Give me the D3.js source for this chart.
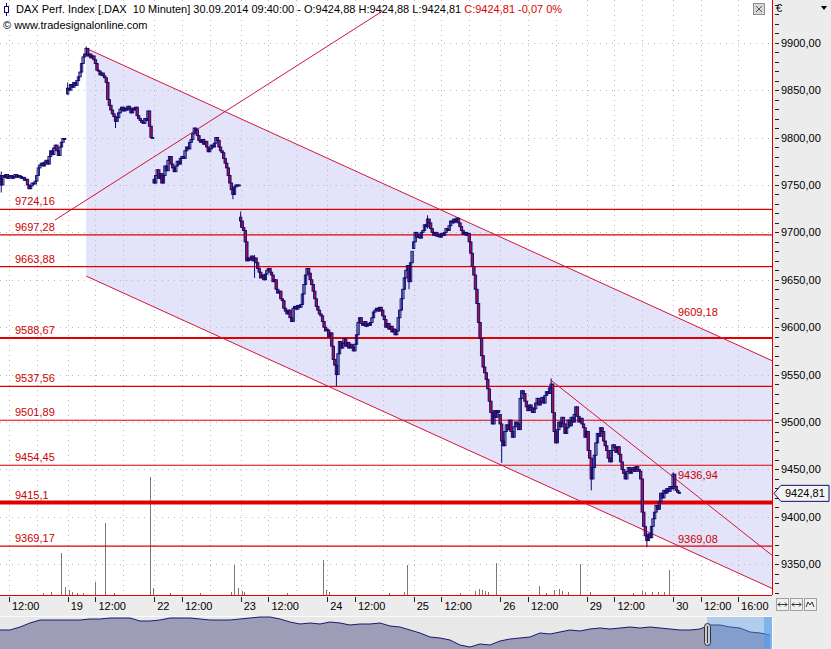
<!DOCTYPE html>
<html><head><meta charset="utf-8">
<script src="https://cdn.jsdelivr.net/npm/d3@7"></script>
<style>
body{margin:0;background:#fff;overflow:hidden}
svg{display:block}
text{font-family:"Liberation Sans",Arial,sans-serif;font-size:11px;white-space:pre}
</style>
</head><body><svg id="c" width="831" height="649"></svg>
<script>
// ---------------- DATA ----------------
const dayLabels = ["18","19","22","23","24","25","26","29","30"];
const barsPerDay = 56;            // 10-minute bars per trading day
const dayFirstBar = [12,0,0,0,0,0,0,0,0];
const dayOpens = [9760,9846,9756,9716,9598,9683,9508,9484,9430];
const sep18 = [9756,9750,9760,9758,9761,9757,9759,9760,9757,9759,9761,9758,9760,9759,9757,9758,9755,9756,9750,9746,9749,9752,9751,9754,9760,9768,9771,9773,9770,9774,9776,9772,9780,9786,9782,9789,9792,9786,9781,9790,9795,9799,9799];
const sep19 = [9852,9850,9856,9853,9858,9855,9860,9864,9869,9878,9885,9888,9894,9886,9888,9884,9886,9882,9878,9871,9870,9866,9868,9865,9863,9858,9840,9834,9829,9825,9822,9817,9821,9826,9830,9832,9828,9831,9829,9833,9830,9826,9831,9829,9832,9823,9820,9818,9816,9815,9820,9818,9828,9812,9800,9800];
const sep22 = [9752,9760,9766,9757,9762,9752,9760,9770,9765,9776,9780,9772,9768,9764,9770,9775,9772,9778,9780,9778,9786,9790,9788,9795,9798,9804,9810,9808,9802,9797,9795,9798,9793,9796,9790,9785,9788,9792,9790,9794,9800,9797,9790,9786,9784,9778,9773,9768,9760,9752,9745,9740,9748,9750,9749,9750];
const sep23 = [9712,9705,9702,9690,9670,9673,9671,9675,9670,9673,9668,9662,9658,9652,9655,9650,9656,9660,9662,9658,9655,9648,9650,9640,9636,9638,9630,9628,9620,9617,9614,9618,9610,9606,9620,9622,9619,9623,9621,9624,9635,9645,9655,9662,9657,9650,9645,9638,9630,9622,9618,9614,9612,9606,9600,9596];
const sep24 = [9597,9590,9594,9580,9566,9560,9550,9572,9585,9578,9583,9588,9580,9584,9578,9582,9579,9575,9582,9592,9605,9610,9604,9602,9606,9601,9604,9602,9605,9610,9616,9618,9620,9617,9621,9618,9612,9608,9600,9604,9598,9601,9595,9598,9592,9596,9610,9618,9630,9640,9652,9660,9665,9648,9668,9680];
const sep25 = [9690,9700,9695,9698,9694,9700,9702,9708,9706,9714,9710,9704,9700,9697,9700,9696,9698,9695,9699,9697,9700,9704,9702,9707,9712,9710,9714,9711,9715,9710,9706,9702,9698,9700,9697,9699,9690,9678,9664,9655,9640,9625,9605,9588,9570,9558,9552,9545,9535,9522,9510,9498,9512,9505,9512,9510];
const sep26 = [9498,9480,9475,9490,9497,9492,9502,9490,9484,9495,9500,9498,9492,9525,9533,9530,9522,9516,9512,9518,9515,9510,9514,9520,9525,9518,9522,9526,9520,9528,9532,9530,9536,9540,9510,9490,9478,9492,9500,9495,9505,9498,9488,9494,9502,9496,9505,9500,9508,9516,9506,9500,9504,9498,9494,9484];
const sep29 = [9490,9470,9462,9440,9452,9465,9478,9488,9485,9494,9490,9480,9475,9470,9462,9458,9470,9476,9473,9468,9474,9466,9458,9450,9446,9440,9448,9452,9446,9450,9452,9448,9453,9450,9448,9440,9405,9390,9380,9375,9382,9378,9390,9398,9405,9412,9408,9416,9425,9420,9428,9425,9430,9427,9432,9430];
const sep30 = [9445,9432,9428,9426,9424.81];
// [day, bar, high, low]
const wicks = [[0,13,9764,9742],[1,0,9858,9845],[1,12,9896,9886],[1,31,9822,9810],[2,51,9748,9735],[3,0,9722,9705],[3,9,9676,9652],[4,6,9560,9538],[4,53,9665,9640],[5,9,9718,9704],[6,1,9498,9457],[6,33,9546,9530],[7,3,9452,9428],[7,39,9382,9368],[8,0,9447,9428]];
// [day, bar, volume]
const volume = [[0,52,42],[0,54,8],[1,1,5],[1,18,13],[1,24,72],[1,53,118],[1,55,7],[2,52,30],[2,54,7],[3,53,35],[3,55,5],[4,52,30],[5,53,32],[6,25,9],[6,52,31],[7,53,25],
 [0,40,2],[0,45,3],[1,3,3],[1,6,2],[1,10,2],[1,30,2],[2,10,2],[2,30,2],[2,50,3],[3,1,4],[3,2,3],[3,30,2],[4,1,3],[4,40,2],[4,50,3],[5,30,2],[5,40,4],[5,42,6],[5,44,5],[5,46,4],[5,48,3],[6,30,2],[6,35,5],[6,38,6],[6,40,4],[6,44,3],[7,2,3],[7,30,2],[7,36,4],[7,38,3],[7,42,3],[7,46,3],[7,50,3]];
// horizontal support / resistance levels
const levelValues = [9724.16,9697.28,9663.88,9588.67,9537.56,9501.89,9454.45,9415.1,9369.17];
const levelLabels = ["9724,16","9697,28","9663,88","9588,67","9537,56","9501,89","9454,45","9415,1","9369,17"];
// trend lines: [globalBar, price] pairs
const channelUpper = [[68,9894],[452,9609.18],[512,9564.7]];
const channelLower = [[68,9653.9],[452,9369.08],[512,9324.6]];
const shortTrend = [[369,9544],[452,9436.94],[512,9359.5]];
const riseLine = [[47.8,9713],[260,9933.5]];
const trendLabels = ["9609,18","9436,94","9369,08"];
const trendLabelPrices = [9609.18,9436.94,9369.08];
// axis
const yTickValues = [9350,9400,9450,9500,9550,9600,9650,9700,9750,9800,9850,9900];
const yTickLabels = ["9350,00","9400,00","9450,00","9500,00","9550,00","9600,00","9650,00","9700,00","9750,00","9800,00","9850,00","9900,00"];
const xTickBars = [[0,18],[1,0],[1,18],[2,0],[2,18],[3,0],[3,18],[4,0],[4,18],[5,0],[5,18],[6,0],[6,18],[7,0],[7,18],[8,0],[8,18],[8,42]];
const xTickLabels = ["12:00","19","12:00","22","12:00","23","12:00","24","12:00","25","12:00","26","12:00","29","12:00","30","12:00","16:00"];
const xGridExtra = [[0,36],[1,36],[2,36],[3,36],[4,36],[5,36],[6,36],[7,36]];
// navigator overview series (relative level)
const navLevels = [19,19,22,26,29,29,29,29,29,30,30,31,31,31,28,28,29,31,31,31,30,29,29,29,30,31,32,32,30,27,25,26,25,27,26,24,25,25,26,23,22,19,16,12,11,9,4,2,5,4,8,10,11,12,16,15,17,19,18,20,21,20,21,22,21,22,21,20,19,19,20,24,24,22,21,17,16,14];
const lastPrice = 9424.81, lastLabel = "9424,81";

// ---------------- DRAW ----------------
const svg = d3.select("#c");
const PR = 772, PB = 595;
const gi = (d,j)=> d*barsPerDay + j;
const x = d3.scaleLinear().domain([12.2, 512]).range([0, PR]);
const y = d3.scaleLinear().domain([9350, 9900]).range([564.3, 42.7]);

const plot = svg.append("g");
plot.append("defs").append("clipPath").attr("id","pc").append("rect").attr("x",0).attr("y",0).attr("width",PR).attr("height",PB);
svg.append("rect").attr("width",831).attr("height",649).attr("fill","#fff").lower();
const g = svg.append("g").attr("clip-path","url(#pc)");

// channel fill
const cu = channelUpper, cl = channelLower;
g.append("path")
 .attr("d", d3.line()([[x(cu[0][0]),y(cu[0][1])],[x(cu[2][0]),y(cu[2][1])],[x(cl[2][0]),y(cl[2][1])],[x(cl[0][0]),y(cl[0][1])]])+"Z")
 .attr("fill","#e3e3fa");

// grid
const gridBars = xTickBars.concat(xGridExtra);
g.selectAll(".vg").data(gridBars).join("line")
 .attr("x1",d=>Math.round(x(gi(d[0],d[1])))+0.5).attr("x2",d=>Math.round(x(gi(d[0],d[1])))+0.5)
 .attr("y1",0).attr("y2",PB).attr("stroke","#bdbdbd").attr("stroke-dasharray","1,4");
g.selectAll(".hg").data(yTickValues).join("line")
 .attr("x1",0).attr("x2",PR).attr("y1",d=>Math.round(y(d))+0.5).attr("y2",d=>Math.round(y(d))+0.5)
 .attr("stroke","#bdbdbd").attr("stroke-dasharray","1,5");

// volume
const vy = d3.scaleLinear().domain([0,125]).range([PB, PB-125]);
g.selectAll(".vol").data(volume).join("line")
 .attr("x1",d=>Math.round(x(gi(d[0],d[1])))+0.5).attr("x2",d=>Math.round(x(gi(d[0],d[1])))+0.5)
 .attr("y1",PB).attr("y2",d=>vy(d[2])).attr("stroke","#7a7a7a").attr("stroke-width",1);

// horizontal levels
const heavy = {"9588.67":2, "9415.1":4};
g.selectAll(".lvl").data(levelValues).join("line")
 .attr("x1",0).attr("x2",PR).attr("y1",d=>y(d)).attr("y2",d=>y(d))
 .attr("stroke","#e00000").attr("stroke-width",d=>heavy[String(d)]||1.2);

// trend lines
[channelUpper, channelLower, shortTrend, riseLine].forEach(pts=>{
  const a=pts[0], b=pts[pts.length-1];
  g.append("line").attr("x1",x(a[0])).attr("y1",y(a[1])).attr("x2",x(b[0])).attr("y2",y(b[1]))
   .attr("stroke","#d4143c").attr("stroke-width",1);
});

// candles
const days=[sep18,sep19,sep22,sep23,sep24,sep25,sep26,sep29,sep30];
const candles=[];
days.forEach((arr,d)=>{ let prev=dayOpens[d];
  arr.forEach((c,k)=>{ const j=dayFirstBar[d]+k; candles.push({i:gi(d,j),o:prev,c:c,h:Math.max(prev,c),l:Math.min(prev,c)}); prev=c; });
});
wicks.forEach(([d,j,h,l])=>{ const cd=candles.find(c=>c.i===gi(d,j)); if(cd){cd.h=Math.max(cd.h,h); cd.l=Math.min(cd.l,l);} });
const cg = g.append("g");
cg.selectAll(".wk").data(candles).join("line")
 .attr("x1",d=>x(d.i)).attr("x2",d=>x(d.i)).attr("y1",d=>y(d.h)).attr("y2",d=>y(d.l))
 .attr("stroke","#0a0a6e").attr("stroke-width",1);
cg.selectAll(".bd").data(candles).join("rect")
 .attr("x",d=>x(d.i)-1.2).attr("width",2.4)
 .attr("y",d=>y(Math.max(d.o,d.c))).attr("height",d=>Math.max(1,Math.abs(y(d.o)-y(d.c))))
 .attr("fill",d=>d.c<d.o?"#a8104a":"none").attr("stroke","#0a0a6e").attr("stroke-width",0.9);

// level labels
g.selectAll(".ll").data(levelValues).join("text")
 .attr("x",15).attr("y",d=>y(d)-4).attr("fill","#cc0000").text((d,i)=>levelLabels[i]);
g.selectAll(".tl").data(trendLabelPrices).join("text")
 .attr("x",678).attr("y",d=>y(d)-3).attr("fill","#cc0000").text((d,i)=>trendLabels[i]);

// header
const hdr = svg.append("text").attr("x",16).attr("y",13);
hdr.append("tspan").attr("fill","#000").text("DAX Perf. Index [.DAX  10 Minuten] 30.09.2014 09:40:00 - O:9424,88 H:9424,88 L:9424,81 ");
hdr.append("tspan").attr("fill","#e00000").text("C:9424,81 -0,07 0%");
svg.append("text").attr("x",3).attr("y",29).attr("fill","#000").text("\u00a9 www.tradesignalonline.com");
svg.append("line").attr("x1",6.5).attr("x2",6.5).attr("y1",3).attr("y2",16).attr("stroke","#0a0a6e");
svg.append("rect").attr("x",4.5).attr("y",6.5).attr("width",4).attr("height",6).attr("fill","#fff").attr("stroke","#0a0a6e");

// close box
svg.append("rect").attr("x",753.5).attr("y",3.5).attr("width",11).attr("height",11).attr("fill","#d8d8d8").attr("stroke","#909090");
svg.append("path").attr("d","M756,6 L762,12 M762,6 L756,12").attr("stroke","#555").attr("stroke-width",1);

// right axis panel
svg.append("rect").attr("x",PR+1).attr("y",0).attr("width",831-PR-1).attr("height",649).attr("fill","#ececec");
svg.append("rect").attr("x",0).attr("y",PB+1).attr("width",PR+1).attr("height",22).attr("fill","#ececec");
svg.append("line").attr("x1",PR+0.5).attr("x2",PR+0.5).attr("y1",0).attr("y2",PB).attr("stroke","#e00000");
svg.append("line").attr("x1",0).attr("x2",PR).attr("y1",PB+0.5).attr("y2",PB+0.5).attr("stroke","#e00000");

const minor = d3.range(9320, 9950, 10);
svg.selectAll(".mt").data(minor.filter(v=>y(v)>3 && y(v)<PB)).join("line")
 .attr("x1",775).attr("x2",779).attr("y1",d=>Math.round(y(d))+0.5).attr("y2",d=>Math.round(y(d))+0.5).attr("stroke","#222");
svg.selectAll(".yl").data(yTickValues).join("text")
 .attr("x",781).attr("y",d=>y(d)+4).attr("fill","#000").text((d,i)=>yTickLabels[i]);
svg.append("text").attr("x",776).attr("y",12).attr("fill","#000").text("\u20ac");
svg.append("path").attr("d","M821,6 L827,6 L824,10 Z").attr("fill","#000");

// last price box
const ly = y(lastPrice);
svg.append("path").attr("d",`M774,${ly} L781,${ly-8} L829,${ly-8} L829,${ly+8} L781,${ly+8} Z`).attr("fill","#f4f4f4").attr("stroke","#10106e");
svg.append("text").attr("x",785).attr("y",ly+4).attr("fill","#000").text(lastLabel);

// x axis
svg.selectAll(".xt").data(xTickBars).join("line")
 .attr("x1",d=>Math.round(x(gi(d[0],d[1])))+0.5).attr("x2",d=>Math.round(x(gi(d[0],d[1])))+0.5)
 .attr("y1",PB+2).attr("y2",PB+7).attr("stroke","#222");
svg.selectAll(".xl").data(xTickBars).join("text")
 .attr("x",d=>x(gi(d[0],d[1]))+3).attr("y",PB+15).attr("fill","#000").text((d,i)=>xTickLabels[i]);

// buttons
[776,790,804].forEach((bx,k)=>{
  svg.append("rect").attr("x",bx+0.5).attr("y",598.5).attr("width",12).attr("height",12).attr("fill","#f0f0f0").attr("stroke","#a0a0a0");
});
svg.append("path").attr("d","M778,604.5 H787 M778,604.5 l2,-2 M778,604.5 l2,2 M787,604.5 l-2,-2 M787,604.5 l-2,2").attr("stroke","#333").attr("fill","none");
svg.append("path").attr("d","M792,604.5 H801 M792,604.5 l2,-2 M792,604.5 l2,2 M801,604.5 l-2,-2 M801,604.5 l-2,2").attr("stroke","#333").attr("fill","none");
svg.append("path").attr("d","M806,607 L808,602 L810,605 L812,602 L814,607").attr("stroke","#333").attr("fill","none");

// navigator
const NT = 617, NB = 649;
svg.append("rect").attr("x",0).attr("y",NT).attr("width",PR).attr("height",NB-NT).attr("fill","#e8e8e8");
svg.append("line").attr("x1",0).attr("x2",PR).attr("y1",NT-0.5).attr("y2",NT-0.5).attr("stroke","#fafafa");
const nx = d3.scaleLinear().domain([0,navLevels.length-1]).range([0,770]);
const ny = d3.scaleLinear().domain([0,32]).range([NB,NT]);
svg.append("path").datum(navLevels).attr("d",d3.area().x((d,i)=>nx(i)).y0(NB).y1(d=>ny(d))).attr("fill","#9d9db8");
svg.append("path").datum(navLevels).attr("d",d3.line().x((d,i)=>nx(i)).y(d=>ny(d))).attr("fill","none").attr("stroke","#1a1a6a");
svg.append("rect").attr("x",707).attr("y",NT).attr("width",PR-707).attr("height",NB-NT).attr("fill","#5aa0f0").attr("opacity",0.38);
svg.append("rect").attr("x",764).attr("y",NT).attr("width",PR-764).attr("height",NB-NT).attr("fill","#4f9af0").attr("opacity",0.5);
svg.append("rect").attr("x",704.5).attr("y",623.5).attr("width",6).attr("height",22).attr("rx",3).attr("fill","#c8c8d8").attr("stroke","#333");
svg.append("line").attr("x1",707.5).attr("x2",707.5).attr("y1",626).attr("y2",643).attr("stroke","#333");
</script></body></html>
